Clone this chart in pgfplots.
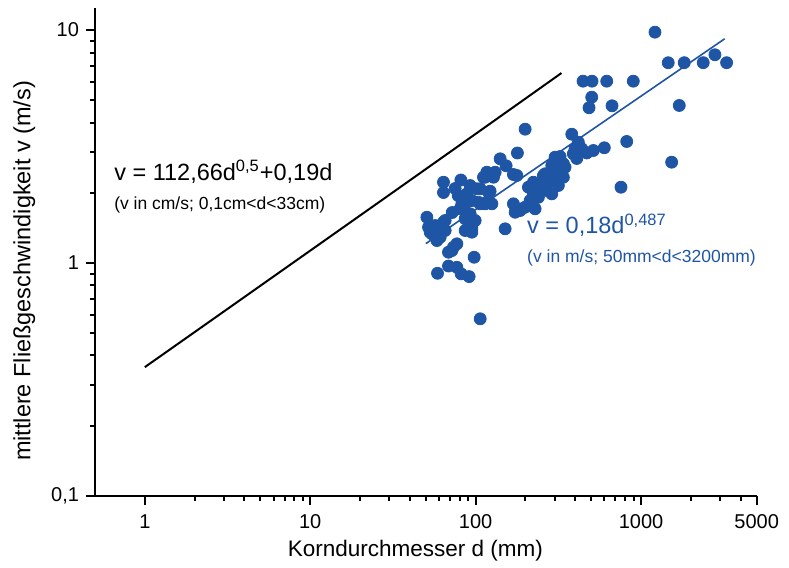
\documentclass[border=0pt]{standalone}
\usepackage{fontspec}
\setmainfont{Liberation Sans}
\usepackage{pgfplots}
\pgfplotsset{compat=1.18}
\definecolor{ptblue}{RGB}{31,85,165}

\begin{document}
\begin{tikzpicture}
\begin{axis}[
    name=ax,
    width=330.85pt, height=243.7pt, scale only axis,
    xmode=log, ymode=log,
    xmin=0.5, xmax=5000, ymin=0.1, ymax=12.4,
    axis lines=left,
    axis line style={-, line width=1pt},
    tick align=outside,
    major tick length=4.5pt, minor tick length=2.5pt,
    tick style={black, line width=1pt},
    xtick={1,10,100,1000,5000},
    xticklabels={1,10,100,1000,5000},
    minor xtick={2,3,4,5,6,7,8,9,20,30,40,50,60,70,80,90,200,300,400,500,600,700,800,900,2000,3000,4000},
    ytick={0.1,1,10},
    yticklabels={{0,1},1,10},
    minor ytick={0.2,0.3,0.4,0.5,0.6,0.7,0.8,0.9,2,3,4,5,6,7,8,9},
    tick label style={font=\fontsize{10}{12}\selectfont},
    xticklabel style={yshift=-1.5pt},
    xlabel={Korndurchmesser d (mm)},
    ylabel={mittlere Fließgeschwindigkeit v (m/s)},
    xlabel style={font=\fontsize{11.25}{13.5}\selectfont, at={(axis description cs:0.484,-0.113)}, anchor=center},
    ylabel style={font=\fontsize{11.75}{14}\selectfont, at={(axis description cs:-0.107,0.461)}, anchor=center},
    clip=false,
  ]
  % frame of the whole picture
  \path (rel axis cs:-0.1436,-0.1422) rectangle (rel axis cs:1.0488,1.0170);

  % Vergleichskurve (cm/s umgerechnet in m/s)
  \addplot[black, line width=1pt] coordinates {
    (1,0.3565) (3,0.6176) (10,1.1285) (30,1.957) (100,3.5816) (200,5.076) (330,6.5345)};

  % Messwerte
  \addplot[only marks, mark=*, mark size=3pt, color=ptblue, mark options={fill=ptblue, draw=ptblue}]
  coordinates {
    (1213,9.79) (1459,7.236) (1823,7.24) (2375,7.24) (2794,7.832) (3288,7.24)
    (1701,4.742) (1530,2.706) (818.6,3.321) (756,2.113) (897,6.03) (619.8,6.03)
    (445.8,6.03) (505.1,6.03) (503,5.147) (484.6,4.636) (667.3,4.727)
    (199.1,3.751) (381,3.569) (417.7,3.298) (398.9,3.090) (437.8,3.090)
    (514.4,3.038) (599.4,3.121) (469.4,2.964) (408.4,2.807) (389.5,2.941)
    (178.8,2.964) (140.6,2.798) (152.8,2.611) (302.0,2.843) (323.8,2.862)
    (309.3,2.752) (339.0,2.664) (288.5,2.619) (347.1,2.575) (331.5,2.493)
    (302,2.575) (295.0,2.413) (323.8,2.372) (339,2.332) (262.8,2.413)
    (256.7,2.372) (288.5,2.258) (269.1,2.185) (245.2,2.149) (316.2,2.149)
    (234.1,2.149) (223.4,2.220) (208.4,2.113) (234.1,1.979) (269.1,2.045)
    (288.5,1.979) (223.4,1.979) (239.4,1.913) (213.4,1.852) (218.5,1.793)
    (199.1,1.734) (190.1,1.707) (185.6,1.678) (173.2,1.650) (169.1,1.793)
    (228.7,1.707) (169.1,2.396) (177.4,2.372) (150.7,1.400)
    (116.8,2.451) (131.2,2.451) (111.5,2.332) (128.1,2.332) (122.3,2.031)
    (106.5,2.080) (116.8,1.821) (125.3,1.793) (114.1,1.793) (106.5,1.793)
    (104.0,1.821) (63.9,2.220) (63.9,2.005) (81.4,2.269) (75.2,2.086)
    (92.6,2.149) (101.7,2.080) (88.5,1.979) (94.8,1.852) (86.4,1.793)
    (82.5,1.793) (80.6,1.707) (92.6,1.624) (88.5,1.624) (86.4,1.546)
    (90.5,1.520) (99.3,1.520) (94.8,1.400) (86.4,1.377) (94.8,1.354)
    (50.7,1.570) (51.9,1.422) (53.1,1.354) (54.4,1.332) (56.9,1.446)
    (59.6,1.354) (58.3,1.247) (61.0,1.288) (63.9,1.495) (65.4,1.520)
    (65.4,1.377) (77.0,1.207) (73.4,1.167) (71.8,1.129) (68.5,1.111)
    (97.9,1.057) (68.5,0.969) (77.0,0.957) (81.7,0.897) (91.3,0.873)
    (58.8,0.902) (106.5,0.575) (119.5,2.011) (114.1,2.332) (78.4,1.946)
    (72.1,1.645)
  };

  % Regressionsgerade
  \addplot[ptblue, line width=0.8pt] coordinates {(50,1.2097) (3200,9.168)};

  \node[anchor=base west, inner sep=0pt, font=\fontsize{11.75}{14}\selectfont]
    at (axis cs:0.650,2.258) {v = 112,66d\textsuperscript{0,5}+0,19d};
  \node[anchor=base west, inner sep=0pt, font=\fontsize{8.75}{10.5}\selectfont]
    at (axis cs:0.650,1.694) {(v in cm/s; 0,1cm<d<33cm)};
  \node[anchor=base west, inner sep=0pt, text=ptblue, font=\fontsize{11.75}{14}\selectfont]
    at (axis cs:203.8,1.332) {v = 0,18d\textsuperscript{0,487}};
  \node[anchor=base west, inner sep=0pt, text=ptblue, font=\fontsize{8.75}{10.5}\selectfont]
    at (axis cs:203.8,1.006) {(v in m/s; 50mm<d<3200mm)};
\end{axis}
\end{tikzpicture}
\end{document}
